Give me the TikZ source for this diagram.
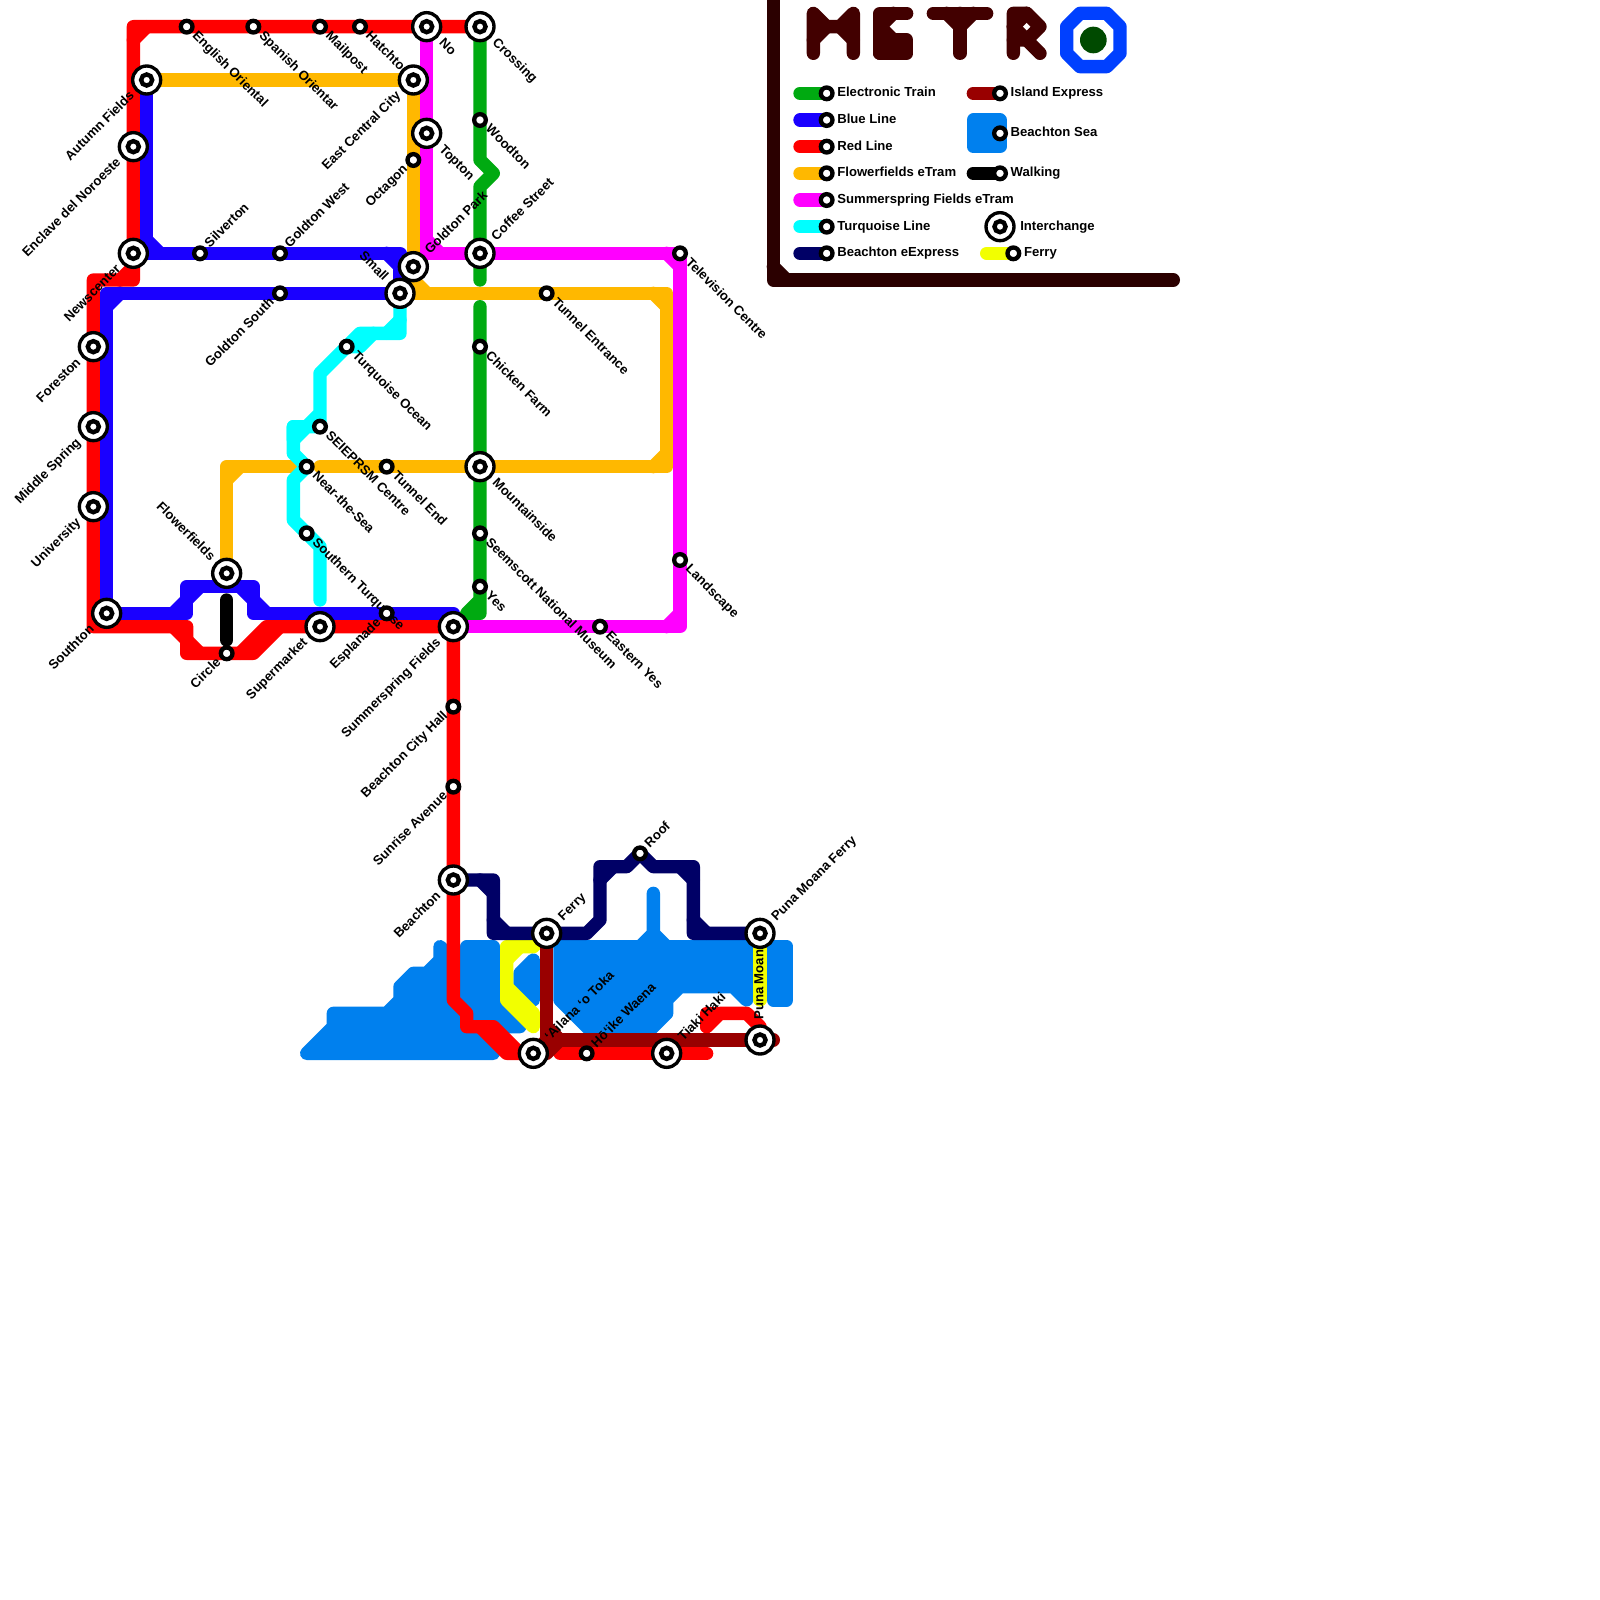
\documentclass[tikz,border=0pt]{standalone}
\usepackage{fontspec}
\setmainfont{Liberation Sans}
\usetikzlibrary{backgrounds}
\definecolor{traingreen}{RGB}{0,170,17}
\definecolor{blueline}{RGB}{26,0,255}
\definecolor{redline}{RGB}{255,0,0}
\definecolor{flowerorange}{RGB}{255,184,0}
\definecolor{summermagenta}{RGB}{255,0,255}
\definecolor{turquoiseline}{RGB}{0,255,255}
\definecolor{expressnavy}{RGB}{0,0,102}
\definecolor{islandred}{RGB}{153,0,0}
\definecolor{seablue}{RGB}{0,128,238}
\definecolor{ferryyellow}{RGB}{242,255,0}
\definecolor{logobrown}{RGB}{66,0,0}
\definecolor{framebrown}{RGB}{43,0,0}
\definecolor{logoblue}{RGB}{0,64,255}
\definecolor{logogreen}{RGB}{0,74,0}

\begin{document}
\begin{tikzpicture}[
  x=0.25cm,y=-0.25cm,
  lbl/.style={font=\fontsize{7}{8}\selectfont\bfseries,inner sep=0pt,outer sep=0pt,
    text height=5.1pt,text depth=1.54pt},
  stn/.style={circle,draw=black,fill=white,line width=0.081cm,minimum size=0.219cm,inner sep=0pt,outer sep=0.0905cm},
  intchg/.style={circle,draw=black,fill=white,line width=0.063cm,minimum size=0.525cm,inner sep=0pt,outer sep=0.1175cm,
    path picture={\draw[black,line width=0.0825cm] (path picture bounding box.center) circle (0.104cm);}},
  lblse/.style={label={[lbl,rotate=-45,anchor=west]-45:#1}},
  lblne/.style={label={[lbl,rotate=45,anchor=west]45:#1}},
  lblsw/.style={label={[lbl,rotate=45,anchor=east]225:#1}},
  lblnw/.style={label={[lbl,rotate=-45,anchor=east]135:#1}},
  lblup/.style={label={[lbl,rotate=90,anchor=west]90:#1}},
  lblkey/.style={label={[lbl,anchor=west]0:#1}},
  metro/.style={line width=0.25cm,line cap=round,line join=round},
  sea/.style={metro,draw=seablue,fill=seablue}
]
  \useasboundingbox (0,0) rectangle (120,120);
  % Red line stations
  \node[stn,lblse={English Oriental}] (english) at (14,2) {};
  \node[stn,lblse={Spanish Orientar}] (spanish) at (19,2) {};
  \node[stn,lblse={Mailpost}] (mailpost) at (24,2) {};
  \node[stn,lblse={Hatchton}] (hatchton) at (27,2) {};
  \node[intchg,lblse={No}] (no) at (32,2) {};
  \node[intchg,lblse={Crossing}] (crossing) at (36,2) {};
  \node[intchg,lblsw={Enclave del Noroeste}] (enclave) at (10,11) {};
  \node[intchg,lblsw={Newscenter}] (newscenter) at (10,19) {};
  \node[intchg,lblsw={Foreston}] (foreston) at (7,26) {};
  \node[intchg,lblsw={Middle Spring}] (middlespring) at (7,32) {};
  \node[intchg,lblsw={University}] (university) at (7,38) {};
  \node[stn,lblsw={Circle}] (circle) at (17,49) {};
  \node[intchg,lblsw={Supermarket}] (supermarket) at (24,47) {};
  \node[stn,lblsw={Beachton City Hall}] (cityhall) at (34,53) {};
  \node[stn,lblsw={Sunrise Avenue}] (sunrise) at (34,59) {};
  \node[intchg,lblsw={Beachton}] (beachton) at (34,66) {};
  \node[intchg,lblne={ʻAilana ʻo Toka}] (ailana) at (40,79) {};
  \node[stn,lblne={Hōʻike Waena}] (hoike) at (44,79) {};
  \node[intchg,lblne={Tiaki Haki}] (tiaki) at (50,79) {};
  % Blue line stations
  \node[intchg,lblsw={Autumn Fields}] (autumn) at (11,6) {};
  \node[stn,lblne={Silverton}] (silverton) at (15,19) {};
  \node[stn,lblne={Goldton West}] (goldtonwest) at (21,19) {};
  \node[stn,lblsw={Goldton South}] (goldtonsouth) at (21,22) {};
  \node[intchg,lblnw={Small}] (small) at (30,22) {};
  \node[intchg,lblsw={Southton}] (southton) at (8,46) {};
  % Turquoise line stations
  \node[stn,lblse={Turquoise Ocean}] (ocean) at (26,26) {};
  \node[stn,lblse={SEIEPRSM Centre}] (seieprsm) at (24,32) {};
  \node[stn,lblse={Near-the-Sea}] (nearsea) at (23,35) {};
  \node[stn,lblse={Southern Turquoise}] (southern) at (23,40) {};
  % Flowerfields eTram stations
  \node[intchg,lblsw={East Central City}] (eastcentral) at (31,6) {};
  \node[stn,lblsw={Octagon}] (octagon) at (31,12) {};
  \node[intchg,lblne={Goldton Park}] (goldtonpark) at (31,20) {};
  \node[stn,lblse={Tunnel Entrance}] (tunnelentrance) at (41,22) {};
  \node[stn,lblse={Tunnel End}] (tunnelend) at (29,35) {};
  \node[intchg,lblnw={Flowerfields}] (flowerfields) at (17,43) {};
  % Summerspring Fields eTram stations
  \node[intchg,lblse={Topton}] (topton) at (32,10) {};
  \node[intchg,lblne={Coffee Street}] (coffee) at (36,19) {};
  \node[stn,lblse={Television Centre}] (television) at (51,19) {};
  \node[stn,lblse={Landscape}] (landscape) at (51,42) {};
  \node[stn,lblse={Eastern Yes}] (easternyes) at (45,47) {};
  \node[stn,lblsw={Esplanade}] (esplanade) at (29,46) {};
  \node[intchg,lblsw={Summerspring Fields}] (summerspring) at (34,47) {};
  % Electronic Train stations
  \node[stn,lblse={Woodton}] (woodton) at (36,9) {};
  \node[stn,lblse={Chicken Farm}] (chicken) at (36,26) {};
  \node[intchg,lblse={Mountainside}] (mountainside) at (36,35) {};
  \node[stn,lblse={Seemscott National Museum}] (seemscott) at (36,40) {};
  \node[stn,lblse={Yes}] (yes) at (36,44) {};
  % Beachton eExpress and ferry stations
  \node[stn,lblne={Roof}] (roof) at (48,64) {};
  \node[intchg,lblne={Ferry}] (ferry) at (41,70) {};
  \node[intchg,lblup={Puna Moana}] (punamoana) at (57,78) {};
  \node[intchg,lblne={Puna Moana Ferry}] (punaferry) at (57,70) {};
  % Legend
  \node[stn,lblkey={Electronic Train}] (keytrain) at (62,7) {};
  \node[stn,lblkey={Blue Line}] (keyblue) at (62,9) {};
  \node[stn,lblkey={Red Line}] (keyred) at (62,11) {};
  \node[stn,lblkey={Flowerfields eTram}] (keyflower) at (62,13) {};
  \node[stn,lblkey={Summerspring Fields eTram}] (keysummer) at (62,15) {};
  \node[stn,lblkey={Turquoise Line}] (keyturq) at (62,17) {};
  \node[stn,lblkey={Beachton eExpress}] (keyexpress) at (62,19) {};
  \node[stn,lblkey={Island Express}] (keyisland) at (75,7) {};
  \node[stn,lblkey={Beachton Sea}] (keysea) at (75,10) {};
  \node[stn,lblkey={Walking}] (keywalk) at (75,13) {};
  \node[intchg,lblkey={Interchange}] (keyintchg) at (75,17) {};
  \node[stn,lblkey={Ferry}] (keyferry) at (76,19) {};

  \begin{scope}[on background layer]
    \fill[white] (0,0) rectangle (120,120);
    % Sea
    \draw[sea] (33,71) -- (33,72) -- (32,73) -- (31,73) -- (30,74) -- (30,75) -- (29,76) -- (25,76) -- (25,77)
      -- (23,79) -- (37,79) -- (35,77) -- (34,76) -- (34,72) -- cycle;
    \draw[sea] (35,71) -- (37,71) -- (37,75) -- (39,77) -- (36,77) -- (35,76) -- cycle;
    \draw[sea] (40,72) -- (40,75) -- (39,74) -- (39,73) -- cycle;
    \draw[sea] (42,71) -- (48,71) -- (49,70) -- (49,67) -- (49,70) -- (50,71) -- (56,71) -- (56,75) -- (55,74)
      -- (51,74) -- (50,75) -- (50,76) -- (48,78) -- (45,78) -- (42,75) -- cycle;
    \draw[sea] (58,71) -- (59,71) -- (59,75) -- (58,75) -- cycle;
    \draw[sea] (73,9) -- (75,9) -- (75,11) -- (73,11) -- cycle;
    % Ferry
    \draw[metro,ferryyellow] (ferry.center) -- (40,71) -- (38,71) -- (38,75) -- (40,77) -- (40,76) -- (38,74);
    \draw[metro,ferryyellow] (38,72) -- (39,71);
    \draw[metro,ferryyellow] (punaferry.center) -- (57,75);
    % Electronic Train
    \draw[metro,traingreen] (crossing.center) -- (woodton.center) -- (36,12) -- (37,13) -- (36,14) -- (36,21);
    \draw[metro,traingreen] (36,23) -- (chicken.center) -- (mountainside.center) -- (seemscott.center) -- (yes.center) -- (36,46) -- (35,46) -- (36,45);
    % Red Line
    \draw[metro,redline] (crossing.center) -- (no.center) -- (hatchton.center) -- (mailpost.center) -- (spanish.center) -- (english.center)
      -- (10,2) -- (enclave.center) -- (newscenter.center) -- (10,21) -- (7,21) -- (foreston.center) -- (middlespring.center)
      -- (university.center) -- (7,47) -- (14,47) -- (14,49) -- (circle.center) -- (19,49) -- (21,47);
    \draw[metro,redline] (11,2) -- (10,3);
    \draw[metro,redline] (10,20) -- (9,21);
    \draw[metro,redline] (13,47) -- (14,48) -- (15,49);
    \draw[metro,redline] (18,49) -- (20,47) -- (supermarket.center) -- (summerspring.center) -- (cityhall.center)
      -- (sunrise.center) -- (beachton.center) -- (34,75) -- (35,76) -- (35,77) -- (37,77) -- (39,79) -- (ailana.center);
    \draw[metro,redline] (36,77) -- (38,79) -- (ailana.center);
    \draw[metro,redline] (42,79) -- (hoike.center) -- (tiaki.center) -- (53,79);
    \draw[metro,redline] (53,77) -- (54,76) -- (56,76) -- (57,77) -- (punamoana.center);
    \draw[metro,redline] (53,77) -- (53,76) -- (54,76);
    % Blue Line
    \draw[metro,blueline] (autumn.center) -- (11,19) -- (silverton.center) -- (goldtonwest.center) -- (30,19) -- (small.center)
      -- (goldtonsouth.center) -- (8,22) -- (southton.center) -- (14,46) -- (14,44) -- (19,44) -- (19,46) -- (esplanade.center) -- (34,46);
    \draw[metro,blueline] (11,18) -- (12,19);
    \draw[metro,blueline] (29,19) -- (30,20);
    \draw[metro,blueline] (8,23) -- (9,22);
    \draw[metro,blueline] (13,46) -- (14,45) -- (15,44);
    \draw[metro,blueline] (18,44) -- (19,45) -- (20,46);
    % Flowerfields eTram
    \draw[metro,flowerorange] (autumn.center) -- (eastcentral.center) -- (octagon.center) -- (goldtonpark.center) -- (31,22)
      -- (tunnelentrance.center) -- (50,22) -- (50,35) -- (mountainside.center) -- (tunnelend.center) -- (24,35);
    \draw[metro,flowerorange] (31,21) -- (32,22);
    \draw[metro,flowerorange] (49,22) -- (50,23);
    \draw[metro,flowerorange] (50,34) -- (49,35);
    \draw[metro,flowerorange] (22,35) -- (17,35) -- (flowerfields.center);
    \draw[metro,flowerorange] (17,36) -- (18,35);
    % Summerspring Fields eTram
    \draw[metro,summermagenta] (no.center) -- (topton.center) -- (32,19) -- (coffee.center) -- (television.center)
      -- (landscape.center) -- (51,47) -- (easternyes.center) -- (summerspring.center);
    \draw[metro,summermagenta] (32,18) -- (33,19);
    \draw[metro,summermagenta] (50,19) -- (51,20);
    \draw[metro,summermagenta] (51,46) -- (50,47);
    % Turquoise Line
    \draw[metro,turquoiseline] (small.center) -- (30,25) -- (27,25) -- (ocean.center) -- (24,28) -- (24,31) -- (23,32) -- (22,33)
      -- (22,32) -- (seieprsm.center) -- (24,31);
    \draw[metro,turquoiseline] (30,24) -- (29,25);
    \draw[metro,turquoiseline] (28,25) -- (27,26) -- (ocean.center);
    \draw[metro,turquoiseline] (22,32) -- (22,34) -- (nearsea.center) -- (22,36) -- (22,39) -- (southern.center) -- (24,41) -- (24,45);
    % Beachton eExpress
    \draw[metro,expressnavy] (beachton.center) -- (37,66) -- (37,70) -- (ferry.center) -- (44,70) -- (45,69) -- (45,65) -- (47,65)
      -- (roof.center) -- (49,65) -- (52,65) -- (52,70) -- (punaferry.center);
    \draw[metro,expressnavy] (36,66) -- (37,67);
    \draw[metro,expressnavy] (37,69) -- (38,70);
    \draw[metro,expressnavy] (45,66) -- (46,65);
    \draw[metro,expressnavy] (51,65) -- (52,66);
    \draw[metro,expressnavy] (52,69) -- (53,70);
    % Island Express
    \draw[metro,islandred] (ferry.center) -- (41,78) -- (58,78);
    \draw[metro,islandred] (41,77) -- (42,78) -- (41,79) -- (ailana.center) -- (41,78);
    % Walking
    \draw[metro,black] (17,45) -- (17,48);
    % Legend swatches
    \draw[metro,traingreen] (60,7) -- (keytrain.center);
    \draw[metro,blueline] (60,9) -- (keyblue.center);
    \draw[metro,redline] (60,11) -- (keyred.center);
    \draw[metro,flowerorange] (60,13) -- (keyflower.center);
    \draw[metro,summermagenta] (60,15) -- (keysummer.center);
    \draw[metro,turquoiseline] (60,17) -- (keyturq.center);
    \draw[metro,expressnavy] (60,19) -- (keyexpress.center);
    \draw[metro,islandred] (73,7) -- (keyisland.center);
    \draw[metro,black] (73,13) -- (keywalk.center);
    \draw[metro,ferryyellow] (74,19) -- (keyferry.center);
    % Frame
    \draw[metro,framebrown] (58,-2) -- (58,21) -- (88,21);
    \draw[metro,framebrown] (58,20) -- (59,21);
    % Logo letters
    \draw[metro,logobrown] (61,4) -- (61,1) -- (62,2) -- (63,2) -- (64,1) -- (64,4);
    \draw[metro,logobrown] (61,3) -- (62,2);
    \draw[metro,logobrown] (64,3) -- (63,2);
    \draw[metro,logobrown] (68,1) -- (66,1) -- (66,4);
    \draw[metro,logobrown] (66,2) -- (67,1);
    \draw[metro,logobrown] (66,2) -- (67,3);
    \draw[metro,logobrown,fill=logobrown] (66,3) -- (68,3) -- (68,4) -- (66,4) -- cycle;
    \draw[metro,logobrown] (70,1) -- (74,1);
    \draw[metro,logobrown] (72,1) -- (72,4);
    \draw[metro,logobrown] (71,1) -- (72,2) -- (73,1);
    \draw[metro,logobrown] (76,4) -- (76,1) -- (77,1) -- (78,2) -- (77,3) -- (78,4);
    \draw[metro,logobrown] (76,2) -- (77,1);
    \draw[metro,logobrown] (76,2) -- (77,3) -- (76,3);
    \draw[metro,logoblue] (81,1) -- (83,1) -- (84,2) -- (84,4) -- (83,5) -- (81,5) -- (80,4) -- (80,2) -- cycle;
    \fill[logogreen] (82,3) circle (1);
  \end{scope}
\end{tikzpicture}
\end{document}
